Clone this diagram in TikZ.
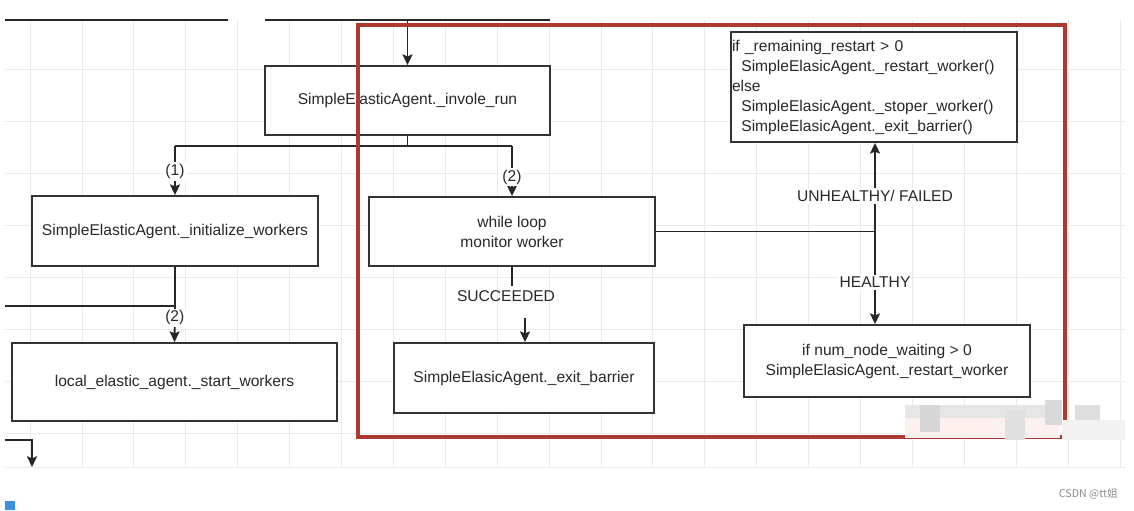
\documentclass[tikz,border=0pt]{standalone}
\usepackage{fontspec}
\setmainfont{Liberation Sans}
\newfontfamily\cjkfont{Noto Sans CJK SC}
\usetikzlibrary{arrows.meta}
\definecolor{redframe}{RGB}{172,58,48}
\definecolor{txt}{RGB}{40,40,40}
\definecolor{gridc}{RGB}{234,234,234}
\definecolor{bluesq}{RGB}{61,143,224}
\tikzset{
  box/.style={draw=black!80, line width=1.4pt, fill=white, inner sep=0pt, text=txt, font=\fontsize{11.7}{15}\selectfont, align=center},
  conn/.style={draw=black!85, line width=1.4pt},
  arr/.style={conn, -{Stealth[length=8pt,width=7.5pt,inset=1.5pt]}},
  lbl/.style={fill=white, inner sep=1.5pt, text=txt, font=\fontsize{11.7}{14}\selectfont},
  frame/.style={draw=redframe, line width=3pt},
  gridline/.style={draw=gridc, line width=0.6pt}
}
\begin{document}
\begin{tikzpicture}[x=0.75pt,y=-0.75pt]
\useasboundingbox (0,0) rectangle (1134,510);
\fill[white] (0,0) rectangle (1134,510);
% grid
\foreach \k in {0,...,21} { \draw[gridline] ({30+51.9*\k},20) -- ({30+51.9*\k},467); }
\foreach \k in {0,...,7} { \draw[gridline] (5,{433-51.9*\k}) -- (1125,{433-51.9*\k}); }
\draw[gridline] (5,467) -- (1125,467);
% top lines
\draw[conn] (5,20) -- (228,20);
\draw[conn] (265,20) -- (550,20);
% boxes
\node[box, minimum width=285*0.75pt, minimum height=69*0.75pt] (run) at (407.5,100.5) {SimpleElasticAgent.\_invole\_run};
\node[box, minimum width=286*0.75pt, minimum height=70*0.75pt] (init) at (175,231) {SimpleElasticAgent.\_initialize\_workers};
\node[box, minimum width=325*0.75pt, minimum height=78*0.75pt] (start) at (174.5,382) {local\_elastic\_agent.\_start\_workers};
\node[box, minimum width=286*0.75pt, minimum height=69*0.75pt] (loop) at (512,231.5) {while loop\\monitor worker};
\node[box, minimum width=260*0.75pt, minimum height=70*0.75pt] (exitb) at (524,378) {SimpleElasicAgent.\_exit\_barrier};
\node[box, minimum width=286*0.75pt, minimum height=110*0.75pt, text width=284*0.75pt, align=left, inner xsep=0.75pt] (fail) at (874,87) {if \_remaining\_restart > 0\\
\hspace*{7pt}SimpleElasicAgent.\_restart\_worker()\\
else\\
\hspace*{7pt}SimpleElasicAgent.\_stoper\_worker()\\
\hspace*{7pt}SimpleElasicAgent.\_exit\_barrier()};
\node[box, minimum width=286*0.75pt, minimum height=72*0.75pt] (healthy) at (887,361) {if num\_node\_waiting > 0\\SimpleElasicAgent.\_restart\_worker};
% connectors
\coordinate (top) at (407.5,20);
\draw[arr] (top) -- (run.north);
\coordinate (split) at (407.5,146);
\coordinate (s1) at (175,146);
\coordinate (s2) at (512,146);
\draw[conn] (run.south) -- (split);
\draw[conn] (s1) -- (s2);
\draw[arr] (s1) -- node[lbl, pos=0.52] {(1)} (init.north);
\draw[arr] (s2) -- node[lbl, pos=0.62] {(2)} (loop.north);
\coordinate (ibend) at (175,306);
\coordinate (ileft) at (5,306);
\draw[conn] (init.south) -- (ibend) -- (ileft);
\draw[arr] (ibend) -- node[lbl, pos=0.33] {(2)} (start.north);
\coordinate (bl1) at (5,440);
\coordinate (bl2) at (32,440);
\coordinate (bl3) at (32,467);
\draw[arr] (bl1) -- (bl2) -- (bl3);
% succeeded
\coordinate (sc1) at (512,286);
\draw[conn] (512,266) -- (sc1);
\node[lbl, fill=none] (succ) at (506,296) {SUCCEEDED};
\coordinate (sc2) at (525,318);
\draw[arr] (sc2) -- (sc2 |- exitb.north);
% monitor branch
\coordinate (junc) at (875,231.5);
\draw[conn] (loop.east) -- (junc);
\draw[arr] (junc) -- node[lbl, pos=0.4] {UNHEALTHY/ FAILED} (junc |- fail.south);
\draw[arr] (junc) -- node[lbl, pos=0.55] {HEALTHY} (junc |- healthy.north);
% red frame
\draw[frame] (358,25) rectangle (1065,437);
% blurred watermark patch
\fill[black!10] (905,405) rectangle (1060,432);
\fill[red!6] (905,418) rectangle (1060,438);
\fill[black!16] (920,405) rectangle (940,432);
\fill[black!12] (1005,410) rectangle (1025,440);
\fill[black!15] (1045,400) rectangle (1062,425);
\fill[black!13] (1075,405) rectangle (1100,425);
\fill[black!5] (1062,420) rectangle (1125,440);
% footer
\fill[bluesq] (5,501) rectangle (15,510);
\node[anchor=east, text=black!45, font=\cjkfont\fontsize{8}{10}\selectfont, inner sep=0pt] (csdn) at (1118,494) {CSDN @tt姐};
\end{tikzpicture}
\end{document}
